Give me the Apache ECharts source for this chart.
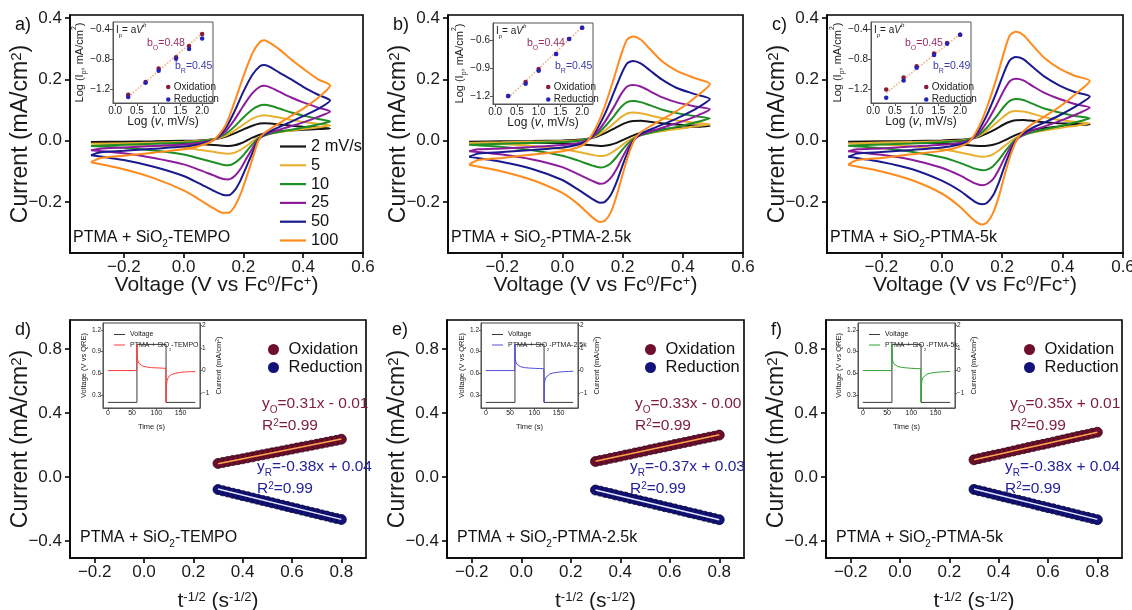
<!DOCTYPE html>
<html><head><meta charset="utf-8">
<script src="https://cdn.jsdelivr.net/npm/echarts@6/dist/echarts.min.js"></script>
<style>html,body{margin:0;padding:0;background:#fff}#c{width:1132px;height:610px}</style>
</head><body><div id="c"></div>
<script>
const F = "'Liberation Sans', Arial, Helvetica, sans-serif";

// ---------- DATA ----------
const scanRates = ['2 mV/s', '5', '10', '25', '50', '100'];

// Panel a: PTMA + SiO2-TEMPO  [V vs Fc, mA/cm2]
const cvA_2 = [[-0.31,-0.004],[-0.2,-0.003],[-0.1,-0.002],[0.0,0.0],[0.05,0.001],[0.1,0.005],[0.14,0.013],[0.17,0.024],[0.2,0.037],[0.23,0.049],[0.255,0.056],[0.27,0.057],[0.29,0.056],[0.32,0.053],[0.36,0.049],[0.4,0.046],[0.45,0.043],[0.49,0.04],
 [0.45,0.038],[0.4,0.036],[0.35,0.033],[0.3,0.029],[0.27,0.024],[0.25,0.018],[0.23,0.01],[0.21,0.0],[0.19,-0.009],[0.17,-0.015],[0.15,-0.017],[0.13,-0.016],[0.1,-0.014],[0.05,-0.011],[0.0,-0.009],[-0.1,-0.007],[-0.2,-0.005],[-0.31,-0.004]];
const cvA_5 = [[-0.31,-0.01],[-0.2,-0.008],[-0.1,-0.006],[0.0,-0.003],[0.05,-0.001],[0.1,0.004],[0.14,0.016],[0.17,0.033],[0.2,0.053],[0.23,0.072],[0.255,0.081],[0.27,0.083],[0.29,0.081],[0.32,0.076],[0.36,0.068],[0.4,0.061],[0.45,0.055],[0.49,0.05],
 [0.45,0.044],[0.4,0.038],[0.35,0.032],[0.3,0.025],[0.27,0.018],[0.25,0.011],[0.23,-0.002],[0.21,-0.017],[0.19,-0.03],[0.17,-0.039],[0.15,-0.042],[0.13,-0.041],[0.1,-0.036],[0.05,-0.029],[0.0,-0.022],[-0.1,-0.016],[-0.2,-0.012],[-0.31,-0.01]];
const cvA_10 = [[-0.31,-0.017],[-0.2,-0.013],[-0.1,-0.01],[0.0,-0.006],[0.05,-0.003],[0.1,0.004],[0.14,0.022],[0.17,0.046],[0.2,0.076],[0.23,0.102],[0.255,0.115],[0.27,0.117],[0.29,0.114],[0.32,0.105],[0.36,0.092],[0.4,0.082],[0.45,0.071],[0.49,0.063],
 [0.45,0.053],[0.4,0.043],[0.35,0.034],[0.3,0.025],[0.27,0.017],[0.25,0.008],[0.23,-0.012],[0.21,-0.035],[0.19,-0.057],[0.17,-0.073],[0.15,-0.08],[0.13,-0.078],[0.1,-0.07],[0.05,-0.057],[0.0,-0.045],[-0.1,-0.032],[-0.2,-0.023],[-0.31,-0.017]];
const cvA_25 = [[-0.31,-0.031],[-0.28,-0.026],[-0.2,-0.022],[-0.1,-0.017],[0.0,-0.012],[0.05,-0.007],[0.1,0.003],[0.14,0.03],[0.17,0.068],[0.2,0.114],[0.23,0.155],[0.255,0.176],[0.27,0.179],[0.29,0.174],[0.32,0.16],[0.36,0.141],[0.4,0.125],[0.45,0.108],[0.49,0.095],
 [0.45,0.078],[0.4,0.06],[0.35,0.045],[0.3,0.03],[0.27,0.018],[0.25,0.005],[0.23,-0.025],[0.21,-0.058],[0.19,-0.092],[0.17,-0.116],[0.15,-0.126],[0.13,-0.124],[0.1,-0.113],[0.05,-0.094],[0.0,-0.077],[-0.1,-0.056],[-0.2,-0.041],[-0.31,-0.031]];
const cvA_50 = [[-0.31,-0.047],[-0.28,-0.038],[-0.2,-0.033],[-0.1,-0.026],[0.0,-0.019],[0.05,-0.012],[0.1,0.002],[0.14,0.04],[0.17,0.095],[0.2,0.16],[0.23,0.215],[0.255,0.243],[0.27,0.247],[0.29,0.24],[0.32,0.222],[0.36,0.2],[0.4,0.176],[0.45,0.15],[0.49,0.131],
 [0.45,0.104],[0.4,0.08],[0.35,0.058],[0.3,0.036],[0.27,0.02],[0.25,0.002],[0.23,-0.04],[0.21,-0.085],[0.19,-0.13],[0.17,-0.163],[0.15,-0.178],[0.13,-0.176],[0.1,-0.163],[0.05,-0.138],[0.0,-0.115],[-0.1,-0.085],[-0.2,-0.063],[-0.31,-0.047]];
const cvA_100 = [[-0.31,-0.070],[-0.28,-0.057],[-0.2,-0.049],[-0.1,-0.039],[0.0,-0.028],[0.05,-0.018],[0.1,0.002],[0.14,0.05],[0.17,0.125],[0.2,0.21],[0.23,0.285],[0.255,0.322],[0.27,0.328],[0.29,0.318],[0.32,0.298],[0.36,0.265],[0.4,0.235],[0.45,0.2],[0.49,0.18],
 [0.45,0.14],[0.4,0.105],[0.35,0.075],[0.3,0.045],[0.27,0.025],[0.25,0.0],[0.23,-0.06],[0.21,-0.12],[0.19,-0.175],[0.17,-0.215],[0.15,-0.235],[0.13,-0.235],[0.1,-0.22],[0.05,-0.19],[0.0,-0.162],[-0.1,-0.122],[-0.2,-0.093],[-0.31,-0.070]];

// Panel b: PTMA + SiO2-PTMA-2.5k
const cvB_2 = [[-0.31,-0.003],[-0.2,-0.002],[-0.1,-0.001],[0.0,0.001],[0.05,0.003],[0.08,0.006],[0.11,0.012],[0.14,0.024],[0.17,0.039],[0.195,0.052],[0.215,0.06],[0.235,0.064],[0.26,0.065],[0.29,0.062],[0.33,0.057],[0.38,0.053],[0.44,0.05],[0.49,0.048],
 [0.45,0.046],[0.4,0.043],[0.35,0.039],[0.3,0.033],[0.26,0.025],[0.24,0.019],[0.22,0.011],[0.2,0.002],[0.18,-0.007],[0.16,-0.013],[0.14,-0.016],[0.125,-0.017],[0.1,-0.015],[0.05,-0.011],[0.0,-0.008],[-0.1,-0.006],[-0.2,-0.004],[-0.31,-0.003]];
const cvB_5 = [[-0.31,-0.007],[-0.2,-0.005],[-0.1,-0.003],[0.0,-0.001],[0.05,0.001],[0.08,0.004],[0.11,0.014],[0.14,0.032],[0.17,0.056],[0.195,0.077],[0.215,0.089],[0.235,0.092],[0.26,0.09],[0.29,0.083],[0.33,0.074],[0.38,0.066],[0.44,0.059],[0.49,0.054],
 [0.45,0.048],[0.4,0.041],[0.35,0.034],[0.3,0.027],[0.26,0.019],[0.24,0.012],[0.22,0.001],[0.2,-0.013],[0.18,-0.028],[0.16,-0.041],[0.14,-0.049],[0.125,-0.05],[0.1,-0.046],[0.05,-0.036],[0.0,-0.027],[-0.1,-0.017],[-0.2,-0.011],[-0.31,-0.007]];
const cvB_10 = [[-0.31,-0.013],[-0.2,-0.01],[-0.1,-0.007],[0.0,-0.004],[0.05,-0.001],[0.08,0.004],[0.11,0.018],[0.14,0.045],[0.17,0.079],[0.195,0.11],[0.215,0.126],[0.235,0.13],[0.26,0.126],[0.29,0.116],[0.33,0.102],[0.38,0.09],[0.44,0.08],[0.49,0.073],
 [0.45,0.062],[0.4,0.05],[0.35,0.039],[0.3,0.028],[0.26,0.018],[0.24,0.009],[0.22,-0.007],[0.2,-0.028],[0.18,-0.053],[0.16,-0.074],[0.14,-0.085],[0.125,-0.087],[0.1,-0.081],[0.05,-0.064],[0.0,-0.049],[-0.1,-0.031],[-0.2,-0.02],[-0.31,-0.013]];
const cvB_25 = [[-0.31,-0.034],[-0.28,-0.028],[-0.2,-0.025],[-0.1,-0.02],[0.0,-0.014],[0.05,-0.008],[0.08,0.0],[0.11,0.022],[0.14,0.06],[0.17,0.108],[0.195,0.152],[0.215,0.177],[0.235,0.182],[0.26,0.177],[0.29,0.162],[0.33,0.142],[0.38,0.125],[0.44,0.112],[0.49,0.103],
 [0.45,0.083],[0.4,0.064],[0.35,0.048],[0.3,0.033],[0.26,0.019],[0.24,0.006],[0.22,-0.018],[0.2,-0.053],[0.18,-0.092],[0.16,-0.122],[0.14,-0.138],[0.125,-0.14],[0.1,-0.131],[0.05,-0.108],[0.0,-0.086],[-0.1,-0.061],[-0.2,-0.045],[-0.31,-0.034]];
const cvB_50 = [[-0.31,-0.052],[-0.28,-0.042],[-0.2,-0.037],[-0.1,-0.03],[0.0,-0.022],[0.05,-0.013],[0.08,-0.002],[0.11,0.03],[0.14,0.085],[0.17,0.155],[0.195,0.215],[0.215,0.252],[0.235,0.26],[0.26,0.252],[0.29,0.23],[0.33,0.2],[0.38,0.172],[0.44,0.152],[0.49,0.136],
 [0.45,0.108],[0.4,0.082],[0.35,0.06],[0.3,0.04],[0.26,0.022],[0.24,0.005],[0.22,-0.03],[0.2,-0.08],[0.18,-0.135],[0.16,-0.178],[0.14,-0.2],[0.125,-0.202],[0.1,-0.19],[0.05,-0.158],[0.0,-0.128],[-0.1,-0.092],[-0.2,-0.069],[-0.31,-0.052]];
const cvB_100 = [[-0.31,-0.078],[-0.28,-0.063],[-0.2,-0.056],[-0.1,-0.045],[0.0,-0.034],[0.05,-0.022],[0.08,-0.005],[0.11,0.04],[0.14,0.11],[0.17,0.2],[0.195,0.28],[0.215,0.33],[0.235,0.34],[0.26,0.33],[0.29,0.3],[0.33,0.26],[0.38,0.228],[0.44,0.204],[0.49,0.185],
 [0.45,0.148],[0.4,0.11],[0.35,0.08],[0.3,0.052],[0.26,0.028],[0.24,0.005],[0.22,-0.045],[0.2,-0.11],[0.18,-0.18],[0.16,-0.235],[0.14,-0.262],[0.125,-0.265],[0.1,-0.25],[0.05,-0.205],[0.0,-0.17],[-0.1,-0.128],[-0.2,-0.1],[-0.31,-0.078]];

// Panel c: PTMA + SiO2-PTMA-5k
const cvC_2 = [[-0.31,-0.003],[-0.2,-0.002],[-0.1,-0.001],[0.0,0.001],[0.05,0.003],[0.09,0.006],[0.12,0.012],[0.15,0.024],[0.18,0.039],[0.205,0.053],[0.225,0.062],[0.245,0.067],[0.27,0.068],[0.3,0.065],[0.34,0.06],[0.39,0.057],[0.44,0.055],[0.49,0.053],
 [0.45,0.051],[0.4,0.047],[0.35,0.042],[0.3,0.035],[0.27,0.028],[0.25,0.021],[0.23,0.012],[0.21,0.002],[0.19,-0.007],[0.17,-0.013],[0.15,-0.016],[0.135,-0.017],[0.11,-0.016],[0.06,-0.012],[0.0,-0.008],[-0.1,-0.006],[-0.2,-0.004],[-0.31,-0.003]];
const cvC_5 = [[-0.31,-0.009],[-0.2,-0.006],[-0.1,-0.004],[0.0,-0.002],[0.05,0.0],[0.09,0.004],[0.12,0.014],[0.15,0.033],[0.18,0.058],[0.205,0.079],[0.225,0.093],[0.245,0.097],[0.27,0.095],[0.3,0.088],[0.34,0.077],[0.39,0.068],[0.44,0.062],[0.49,0.057],
 [0.45,0.05],[0.4,0.043],[0.35,0.035],[0.3,0.027],[0.27,0.02],[0.25,0.012],[0.23,0.0],[0.21,-0.015],[0.19,-0.031],[0.17,-0.044],[0.15,-0.051],[0.135,-0.052],[0.11,-0.049],[0.06,-0.038],[0.0,-0.028],[-0.1,-0.018],[-0.2,-0.012],[-0.31,-0.009]];
const cvC_10 = [[-0.31,-0.016],[-0.2,-0.012],[-0.1,-0.009],[0.0,-0.005],[0.05,-0.002],[0.09,0.003],[0.12,0.017],[0.15,0.043],[0.18,0.078],[0.205,0.11],[0.225,0.13],[0.245,0.136],[0.27,0.133],[0.3,0.121],[0.34,0.105],[0.39,0.092],[0.44,0.081],[0.49,0.073],
 [0.45,0.062],[0.4,0.05],[0.35,0.039],[0.3,0.028],[0.27,0.018],[0.25,0.008],[0.23,-0.01],[0.21,-0.034],[0.19,-0.061],[0.17,-0.083],[0.15,-0.094],[0.135,-0.096],[0.11,-0.091],[0.06,-0.072],[0.0,-0.054],[-0.1,-0.036],[-0.2,-0.024],[-0.31,-0.016]];
const cvC_25 = [[-0.31,-0.034],[-0.28,-0.028],[-0.2,-0.025],[-0.1,-0.019],[0.0,-0.013],[0.05,-0.008],[0.09,0.0],[0.12,0.022],[0.15,0.062],[0.18,0.114],[0.205,0.163],[0.225,0.194],[0.245,0.202],[0.27,0.197],[0.3,0.179],[0.34,0.156],[0.39,0.136],[0.44,0.12],[0.49,0.108],
 [0.45,0.088],[0.4,0.068],[0.35,0.05],[0.3,0.034],[0.27,0.02],[0.25,0.006],[0.23,-0.018],[0.21,-0.052],[0.19,-0.092],[0.17,-0.125],[0.15,-0.141],[0.135,-0.145],[0.11,-0.139],[0.06,-0.113],[0.0,-0.088],[-0.1,-0.062],[-0.2,-0.046],[-0.31,-0.034]];
const cvC_50 = [[-0.31,-0.052],[-0.28,-0.042],[-0.2,-0.037],[-0.1,-0.03],[0.0,-0.022],[0.05,-0.014],[0.09,-0.002],[0.12,0.03],[0.15,0.085],[0.18,0.155],[0.205,0.22],[0.225,0.262],[0.245,0.273],[0.27,0.266],[0.3,0.241],[0.34,0.209],[0.39,0.18],[0.44,0.159],[0.49,0.144],
 [0.45,0.116],[0.4,0.088],[0.35,0.064],[0.3,0.042],[0.27,0.024],[0.25,0.006],[0.23,-0.028],[0.21,-0.077],[0.19,-0.133],[0.17,-0.178],[0.15,-0.202],[0.135,-0.207],[0.11,-0.199],[0.06,-0.163],[0.0,-0.13],[-0.1,-0.092],[-0.2,-0.069],[-0.31,-0.052]];
const cvC_100 = [[-0.31,-0.078],[-0.28,-0.063],[-0.2,-0.056],[-0.1,-0.044],[0.0,-0.033],[0.05,-0.022],[0.09,-0.004],[0.12,0.04],[0.15,0.11],[0.18,0.2],[0.205,0.285],[0.225,0.343],[0.245,0.355],[0.27,0.345],[0.3,0.312],[0.34,0.27],[0.39,0.235],[0.44,0.212],[0.49,0.195],
 [0.45,0.158],[0.4,0.118],[0.35,0.085],[0.3,0.055],[0.27,0.03],[0.25,0.006],[0.23,-0.04],[0.21,-0.105],[0.19,-0.178],[0.17,-0.235],[0.15,-0.266],[0.135,-0.273],[0.11,-0.262],[0.06,-0.215],[0.0,-0.172],[-0.1,-0.128],[-0.2,-0.1],[-0.31,-0.078]];

// Insets a-c: Log(Ip) vs Log(v)
const logV = [0.3, 0.7, 1.0, 1.4, 1.7, 2.0];
const logIoxA  = [-1.27, -1.10, -0.92, -0.77, -0.62, -0.46];
const logIredA = [-1.30, -1.11, -0.95, -0.79, -0.66, -0.52];
const logIoxB  = [-1.20, -1.05, -0.91, -0.75, -0.59, -0.47];
const logIredB = [-1.20, -1.07, -0.93, -0.75, -0.59, -0.47];
const logIoxC  = [-1.20, -1.04, -0.89, -0.72, -0.58, -0.47];
const logIredC = [-1.31, -1.08, -0.91, -0.74, -0.59, -0.47];
const logFitA = [[0.3, -1.30], [2.0, -0.45]];
const logFitB = [[0.3, -1.22], [2.0, -0.46]];
const logFitC = [[0.3, -1.25], [2.0, -0.46]];
const bLabels = [['0.48', '0.45'], ['0.44', '0.45'], ['0.45', '0.49']];

// Panels d-f: peak current vs t^-1/2
const ctX  = [0.30,0.32,0.34,0.36,0.38,0.40,0.42,0.44,0.46,0.48,0.50,0.52,0.54,0.56,0.58,0.60,0.62,0.64,0.66,0.68,0.70,0.72,0.74,0.76,0.78,0.80];
const oxD  = [0.085,0.091,0.097,0.103,0.108,0.114,0.120,0.126,0.133,0.139,0.145,0.151,0.157,0.163,0.169,0.175,0.181,0.187,0.193,0.199,0.205,0.211,0.217,0.223,0.229,0.236];
const redD = [-0.078,-0.086,-0.093,-0.101,-0.108,-0.116,-0.123,-0.131,-0.138,-0.146,-0.153,-0.161,-0.168,-0.176,-0.183,-0.191,-0.198,-0.206,-0.213,-0.221,-0.228,-0.236,-0.243,-0.251,-0.258,-0.265];
const oxE  = [0.097,0.104,0.110,0.117,0.123,0.130,0.137,0.143,0.150,0.156,0.163,0.170,0.176,0.183,0.189,0.196,0.203,0.209,0.216,0.222,0.229,0.236,0.242,0.249,0.255,0.262];
const redE = [-0.081,-0.088,-0.096,-0.103,-0.111,-0.118,-0.125,-0.133,-0.140,-0.148,-0.155,-0.162,-0.170,-0.177,-0.185,-0.192,-0.199,-0.207,-0.214,-0.222,-0.229,-0.236,-0.244,-0.251,-0.259,-0.266];
const oxF  = [0.108,0.115,0.122,0.129,0.136,0.142,0.149,0.156,0.163,0.170,0.177,0.184,0.191,0.198,0.204,0.211,0.218,0.225,0.232,0.239,0.246,0.253,0.260,0.266,0.273,0.280];
const redF = [-0.077,-0.085,-0.092,-0.100,-0.107,-0.115,-0.123,-0.130,-0.138,-0.145,-0.153,-0.160,-0.168,-0.176,-0.183,-0.191,-0.198,-0.206,-0.213,-0.221,-0.229,-0.236,-0.244,-0.251,-0.259,-0.266];
const fitOxD = [[0.3, 0.083], [0.8, 0.238]];
const fitRedD = [[0.3, -0.074], [0.8, -0.264]];
const fitOxE = [[0.3, 0.099], [0.8, 0.264]];
const fitRedE = [[0.3, -0.081], [0.8, -0.266]];
const fitOxF = [[0.3, 0.108], [0.8, 0.280]];
const fitRedF = [[0.3, -0.074], [0.8, -0.264]];
const eqOx  = ['0.31x - 0.01', '0.33x - 0.00', '0.35x + 0.01'];
const eqRed = ['-0.38x + 0.04', '-0.37x + 0.03', '-0.38x + 0.04'];

// Insets d-f: chronoamperometry
const caTime = [0, 60, 60, 120, 120, 180];
const caVolt = [0.2, 0.2, 1.0, 1.0, 0.2, 0.2];
const caCurT = [0, 59.5, 60, 60.5, 61, 62, 64, 67, 72, 80, 90, 100, 110, 119.5, 120, 120.5, 121, 122, 124, 127, 132, 140, 150, 160, 170, 180];
const caCurD = [0.0, 0.0, 1.15, 0.75, 0.55, 0.42, 0.32, 0.25, 0.2, 0.16, 0.13, 0.12, 0.11, 0.1, -1.4, -0.85, -0.6, -0.45, -0.33, -0.24, -0.17, -0.12, -0.08, -0.06, -0.05, -0.04];
const caCurE = [0.0, 0.0, 1.15, 0.7, 0.5, 0.38, 0.28, 0.22, 0.17, 0.13, 0.11, 0.1, 0.09, 0.08, -1.4, -0.8, -0.55, -0.42, -0.3, -0.22, -0.15, -0.1, -0.07, -0.05, -0.04, -0.03];
const caCurF = [0.0, 0.0, 1.15, 0.72, 0.52, 0.4, 0.3, 0.23, 0.18, 0.14, 0.12, 0.1, 0.09, 0.08, -1.4, -0.82, -0.57, -0.43, -0.31, -0.23, -0.16, -0.11, -0.08, -0.06, -0.05, -0.04];

const sampleNames = ['TEMPO', 'PTMA-2.5k', 'PTMA-5k'];
const panelLetters = ['a)', 'b)', 'c)', 'd)', 'e)', 'f)'];

// ---------- BUILD ----------
const cvSets = [[cvA_2,cvA_5,cvA_10,cvA_25,cvA_50,cvA_100],[cvB_2,cvB_5,cvB_10,cvB_25,cvB_50,cvB_100],[cvC_2,cvC_5,cvC_10,cvC_25,cvC_50,cvC_100]];
const logSets = [[logIoxA,logIredA,logFitA],[logIoxB,logIredB,logFitB],[logIoxC,logIredC,logFitC]];
const ctSets = [[oxD,redD,fitOxD,fitRedD],[oxE,redE,fitOxE,fitRedE],[oxF,redF,fitOxF,fitRedF]];
const caSets = [caCurD, caCurE, caCurF];
const cvColors = ['#151515', '#e8b030', '#1f8e25', '#8d1c9c', '#1a1a8e', '#ff8a1d'];
const caColors = ['#ff3c3c', '#5050d8', '#33a533'];
const OXC = '#6e0f2c', REDC = '#121278';

function fmt1(v){ return (v < 0 ? '\u2212' : '') + Math.abs(v).toFixed(1); }
function fmtI(v){ return (v < 0 ? '\u2212' : '') + Math.abs(Math.round(v)); }
function rich(fs, color){
  const s = Math.round(fs * 0.64);
  return {
    n: {fontSize: fs, fontFamily: F, color: color, fill: color},
    i: {fontSize: fs, fontFamily: F, color: color, fill: color, fontStyle: 'italic'},
    sup: {fontSize: s, fontFamily: F, color: color, fill: color, verticalAlign: 'top'},
    supi: {fontSize: s, fontFamily: F, color: color, fill: color, verticalAlign: 'top', fontStyle: 'italic'},
    sub: {fontSize: s, fontFamily: F, color: color, fill: color, verticalAlign: 'bottom', lineHeight: fs + 6}
  };
}
function axis(o){
  const lc = o.lc || '#000', lw = o.lw || 1.6;
  return {
    type: 'value', gridIndex: o.grid, min: o.min, max: o.max, position: o.position,
    axisLine: {show: true, onZero: false, lineStyle: {color: lc, width: lw}},
    axisTick: {show: true, inside: false, length: o.tl || 5, customValues: o.ticks, lineStyle: {color: lc, width: lw}},
    axisLabel: {show: true, customValues: o.ticks, formatter: o.fmt || fmt1, fontSize: o.fs, fontFamily: F, color: o.tc || '#1a1a1a', margin: o.margin},
    splitLine: {show: false},
    name: o.name || '', nameLocation: 'middle', nameGap: o.nameGap || 0, nameRotate: o.nameRotate || 0, nameMoveOverlap: false,
    nameTextStyle: {fontSize: o.nfs || 12, fontFamily: F, color: '#1a1a1a', rich: rich(o.nfs || 12, '#1a1a1a')}
  };
}
const grids = [], xAxes = [], yAxes = [], series = [], legends = [], graphics = [];
function gtext(x, y, text, fs, color, extra){
  graphics.push(Object.assign({type: 'text', x: x, y: y, z: 50, silent: true,
    style: {text: text, fontSize: fs, fontFamily: F, fill: color, align: 'left', verticalAlign: 'middle', rich: rich(fs, color)}}, extra || {}));
}
function grid(l, t, w, h, bc, bw, bg){
  grids.push({left: l, top: t, width: w, height: h, show: true, borderColor: bc, borderWidth: bw, backgroundColor: bg || 'transparent', containLabel: false, outerBoundsMode: 'none'});
  return grids.length - 1;
}

const L1 = [70, 448, 827], W1 = [293, 295, 296];
const L2 = [70, 447, 826], W2 = [296, 297, 296];
const IL1 = [113, 493, 871], IT1 = [22, 23, 22];
const IL2 = [103, 481, 858];
const insetYRange = [[-1.38, -0.30, [-1.2, -0.8, -0.4]], [-1.286, -0.418, [-1.2, -0.9, -0.6]], [-1.38, -0.30, [-1.2, -0.8, -0.4]]];

for (let p = 0; p < 3; p++) {
  // ---- main CV ----
  const g = grid(L1[p], 15, W1[p], 238, '#000', 1.6);
  const xi = xAxes.push(axis({grid: g, min: -0.38, max: 0.6, ticks: [-0.2, 0, 0.2, 0.4, 0.6], fs: 17, margin: 6,
    name: '{n|Voltage (V vs Fc}{sup|0}{n|/Fc}{sup|+}{n|)}', nfs: 21, nameGap: 22})) - 1;
  const yi = yAxes.push(axis({grid: g, min: -0.366, max: 0.41, ticks: [-0.2, 0, 0.2, 0.4], fs: 17, margin: 8,
    name: '{n|Current (mA/cm}{sup|2}{n|)}', nfs: 23, nameGap: 38, nameRotate: 90})) - 1;
  cvSets[p].forEach((d, k) => series.push({type: 'line', name: scanRates[k], xAxisIndex: xi, yAxisIndex: yi, data: d,
    symbol: 'none', smooth: 0.25, lineStyle: {width: 2, color: cvColors[k]}, itemStyle: {color: cvColors[k]}, z: 2}));
  // ---- inset log-log ----
  const gi = grid(IL1[p], IT1[p], 100, 81, '#555', 1, '#fff');
  const ixi = xAxes.push(axis({grid: gi, min: -0.05, max: 2.25, ticks: [0, 0.5, 1, 1.5, 2], fs: 10, margin: 3, tl: 3, lc: '#555', lw: 1,
    name: '{n|Log (}{i|v}{n|, mV/s)}', nfs: 12, nameGap: 13})) - 1;
  const iyi = yAxes.push(axis({grid: gi, min: insetYRange[p][0], max: insetYRange[p][1], ticks: insetYRange[p][2], fs: 10, margin: 3, tl: 3, lc: '#555', lw: 1,
    name: '{n|Log (I}{sub|p}{n|, mA/cm}{sup|2}{n|)}', nfs: 11, nameGap: 25, nameRotate: 90})) - 1;
  const ls = logSets[p];
  series.push({type: 'line', xAxisIndex: ixi, yAxisIndex: iyi, data: ls[2], symbol: 'none', lineStyle: {type: 'dotted', width: 1.6, color: '#f3b287'}, z: 3});
  series.push({type: 'scatter', name: 'Oxidation', xAxisIndex: ixi, yAxisIndex: iyi, data: logV.map((x, i) => [x, ls[0][i]]), symbolSize: 4.5, itemStyle: {color: '#8a1a3a', opacity: 1}, z: 4});
  series.push({type: 'scatter', name: 'Reduction', xAxisIndex: ixi, yAxisIndex: iyi, data: logV.map((x, i) => [x, ls[1][i]]), symbolSize: 4.5, itemStyle: {color: '#2424b4', opacity: 1}, z: 4});
  legends.push({left: IL1[p] + 48, top: 77, orient: 'vertical', itemWidth: 5, itemHeight: 4.5, itemGap: 2.5, icon: 'circle', selectedMode: false,
    data: [{name: 'Oxidation', itemStyle: {color: '#8a1a3a', opacity: 1}}, {name: 'Reduction', itemStyle: {color: '#2424b4', opacity: 1}}],
    textStyle: {fontSize: 10, fontFamily: F, color: '#222', lineHeight: 10, padding: [0, 0, 0, -2]}});
  gtext(IL1[p] + 3, IT1[p] + 8, '{n|I}{sub|p}{n|= a}{i|V}{supi|b}', 10, '#222');
  gtext(IL1[p] + 34, 43, '{n|b}{sub|O}{n|=' + bLabels[p][0] + '}', 10.5, '#9a2d66');
  gtext(IL1[p] + 62, 66, '{n|b}{sub|R}{n|=' + bLabels[p][1] + '}', 10.5, '#3a3aaa');
  gtext(L1[p] + 3, 238, '{n|PTMA + SiO}{sub|2}{n|-' + sampleNames[p] + '}', 16, '#111');
  gtext(L1[p] - 55, 25, panelLetters[p], 18, '#111');

  // ---- row 2 main ----
  const g2 = grid(L2[p], 320, W2[p], 238, '#000', 1.6);
  const xi2 = xAxes.push(axis({grid: g2, min: -0.3, max: 0.9, ticks: [-0.2, 0, 0.2, 0.4, 0.6, 0.8], fs: 17, margin: 6,
    name: '{n|t}{sup|-1/2}{n| (s}{sup|-1/2}{n|)}', nfs: 21, nameGap: 33})) - 1;
  const yi2 = yAxes.push(axis({grid: g2, min: -0.505, max: 0.98, ticks: [-0.4, 0, 0.4, 0.8], fs: 17, margin: 8,
    name: '{n|Current (mA/cm}{sup|2}{n|)}', nfs: 23, nameGap: 38, nameRotate: 90})) - 1;
  const cs = ctSets[p];
  series.push({type: 'scatter', name: 'Oxidation', xAxisIndex: xi2, yAxisIndex: yi2, data: ctX.map((x, i) => [x, cs[0][i]]), symbolSize: 10,
    itemStyle: {color: OXC, borderColor: '#35041a', borderWidth: 0.8, opacity: 1}, z: 3});
  series.push({type: 'scatter', name: 'Reduction', xAxisIndex: xi2, yAxisIndex: yi2, data: ctX.map((x, i) => [x, cs[1][i]]), symbolSize: 10,
    itemStyle: {color: REDC, borderColor: '#04043a', borderWidth: 0.8, opacity: 1}, z: 3});
  series.push({type: 'line', xAxisIndex: xi2, yAxisIndex: yi2, data: cs[2], symbol: 'none', lineStyle: {color: '#ffa64a', width: 1.5}, z: 5});
  series.push({type: 'line', xAxisIndex: xi2, yAxisIndex: yi2, data: cs[3], symbol: 'none', lineStyle: {color: '#e4e8ff', width: 1.5}, z: 5});
  legends.push({left: L2[p] + 193, top: 336, orient: 'vertical', itemWidth: 20, itemHeight: 11, itemGap: 1, icon: 'circle', selectedMode: false,
    data: [{name: 'Oxidation', itemStyle: {color: OXC, opacity: 1}}, {name: 'Reduction', itemStyle: {color: REDC, opacity: 1}}],
    textStyle: {fontSize: 16.5, fontFamily: F, color: '#111', lineHeight: 17}});
  const ex = L2[p] + 192 - p * 4;
  gtext(ex, 404, '{n|y}{sub|O}{n|=' + eqOx[p] + '}', 15.5, '#7d1a40');
  gtext(ex, 426, '{n|R}{sup|2}{n|=0.99}', 15.5, '#7d1a40');
  gtext(ex - 5, 467, '{n|y}{sub|R}{n|=' + eqRed[p] + '}', 15.5, '#22229e');
  gtext(ex - 5, 489, '{n|R}{sup|2}{n|=0.99}', 15.5, '#22229e');
  gtext(L2[p] + 10, 538, '{n|PTMA + SiO}{sub|2}{n|-' + sampleNames[p] + '}', 16, '#111');
  gtext(L2[p] - 55, 330, panelLetters[p + 3], 18, '#111');

  // ---- inset chronoamperometry ----
  const g3 = grid(IL2[p], 323, 97, 85, '#444', 1, '#fff');
  const cxi = xAxes.push(axis({grid: g3, min: -10, max: 190, ticks: [0, 50, 100, 150], fs: 7, margin: 2, tl: 2, lc: '#444', lw: 0.8, fmt: fmtI,
    name: 'Time (s)', nfs: 7.5, nameGap: 15})) - 1;
  const cyv = yAxes.push(axis({grid: g3, min: 0.123, max: 1.295, ticks: [0.3, 0.6, 0.9, 1.2], fs: 6.5, margin: 2, tl: 2, lc: '#444', lw: 0.8,
    name: 'Voltage (V vs QRE)', nfs: 7.5, nameGap: 15, nameRotate: 90})) - 1;
  const cyc = yAxes.push(axis({grid: g3, position: 'right', min: -1.66, max: 2.11, ticks: [-1, 0, 1, 2], fs: 6.5, margin: 2, tl: 2, lc: '#444', lw: 0.8, fmt: fmtI,
    name: '{n|Current (mA/cm}{sup|2}{n|)}', nfs: 7.5, nameGap: 15, nameRotate: 90})) - 1;
  series.push({type: 'line', name: 'Voltage', xAxisIndex: cxi, yAxisIndex: cyv, data: caTime.map((t, i) => [t, caVolt[i]]), symbol: 'none', lineStyle: {color: '#3c3c3c', width: 1}, itemStyle: {color: '#3c3c3c'}, z: 4});
  series.push({type: 'line', name: 'CA' + p, xAxisIndex: cxi, yAxisIndex: cyc, data: caCurT.map((t, i) => [t, caSets[p][i]]), symbol: 'none', lineStyle: {color: caColors[p], width: 1}, itemStyle: {color: caColors[p]}, z: 5});
  const labelName = '{n|PTMA + SiO}{sub|2}{n|-' + sampleNames[p] + '}';
  legends.push({left: IL2[p] + 6, top: 326, orient: 'vertical', itemWidth: 11, itemHeight: 1, itemGap: 0.5, icon: 'rect', selectedMode: false,
    data: ['Voltage', 'CA' + p], formatter: nm => nm === 'Voltage' ? '{n|Voltage}' : labelName,
    textStyle: {fontSize: 7, fontFamily: F, color: '#222', lineHeight: 7, rich: rich(7, '#222')}});
}

legends.push({left: 275, top: 133, orient: 'vertical', itemWidth: 26, itemHeight: 2.2, itemGap: 1.8, icon: 'rect', selectedMode: false,
  data: scanRates, textStyle: {fontSize: 16.4, fontFamily: F, color: '#111', lineHeight: 17}});

const chart = echarts.init(document.getElementById('c'), null, {renderer: 'canvas'});
chart.setOption({
  animation: false, backgroundColor: '#fff',
  grid: grids, xAxis: xAxes, yAxis: yAxes, series: series, legend: legends, graphic: graphics
});
</script></body></html>
